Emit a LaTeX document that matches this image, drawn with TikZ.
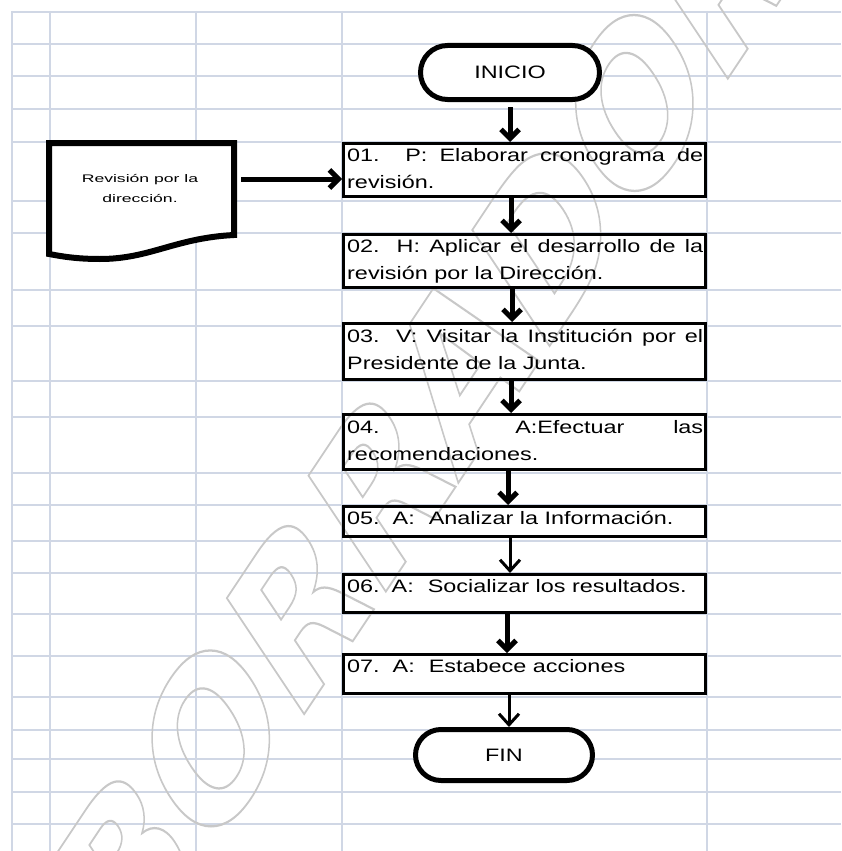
\documentclass[tikz,border=0pt]{standalone}
\usepackage{fontspec}
\setmainfont{Liberation Sans}
\newfontfamily\boxfont[FakeStretch=1.3]{Liberation Sans}
\newfontfamily\docfont[FakeStretch=1.6]{Liberation Sans}
\newfontfamily\wmfont{DejaVu Sans}
\usetikzlibrary{arrows.meta,shapes.misc}
\definecolor{gridc}{HTML}{D0D7E5}
\definecolor{wmc}{RGB}{200,200,200}
\pgfdeclarelayer{gridl}
\pgfdeclarelayer{fillsl}
\pgfdeclarelayer{wml}
\pgfsetlayers{gridl,fillsl,wml,main}
\newcommand{\twoline}[2]{\parbox[t]{356pt}{\boxfont\fontsize{18}{27.5}\selectfont\noindent\makebox[356pt][s]{#1}\\#2}}
\newcommand{\outlinetext}[1]{{\color{wmc}\special{pdf:literal q 1 Tr 1.5 w}#1\special{pdf:literal Q}}}
\tikzset{
  box/.style={draw, line width=3pt, rectangle, minimum width=362pt, inner sep=0pt},
  term/.style={draw, line width=5pt, rounded rectangle, fill=white, inner sep=0pt,
    font=\boxfont\fontsize{18}{22}\selectfont},
  txt/.style={anchor=base west, inner sep=0pt, font=\boxfont\fontsize{18}{27}\selectfont},
  arrthick/.style={line width=5pt, -{Straight Barb[length=9pt,width=18pt]}},
  arrthin/.style={line width=3pt, -{Straight Barb[length=11pt,width=20pt]}},
  gridline/.style={draw=gridc, line width=2pt}
}
\begin{document}
\begin{tikzpicture}[x=1pt,y=-1pt]
\useasboundingbox (0,0) rectangle (841,851);
% grid
\begin{pgfonlayer}{gridl}
\fill[white] (0,0) rectangle (841,851);
\foreach \x in {12,50,196,342,707} \draw[gridline] (\x,11) -- (\x,851);
\foreach \y in {12,44,76,109,142,201,233,290,326,381,417,473,505,541,573,614,656,697,730,759,792,824}
  \draw[gridline] (11,\y) -- (841,\y);
\end{pgfonlayer}
% terminals
\node[term, minimum width=179pt, minimum height=54pt] (ini) at (510,72.5) {INICIO};
\node[term, minimum width=177pt, minimum height=51pt] (fin) at (504,755) {FIN};
% process boxes
\node[box, minimum height=53pt] (b1) at (524.5,170) {};
\node[box, minimum height=53pt] (b2) at (524.5,261) {};
\node[box, minimum height=56pt] (b3) at (524.5,351.5) {};
\node[box, minimum height=55pt] (b4) at (524.5,442) {};
\node[box, minimum height=30pt] (b5) at (524.5,521.5) {};
\node[box, minimum height=38pt] (b6) at (524.5,593.5) {};
\node[box, minimum height=39pt] (b7) at (524.5,674) {};
\node[txt] (t1) at (347,161) {\twoline{01. P: Elaborar cronograma de}{revisión.}};
\node[txt] (t2) at (347,252) {\twoline{02. H: Aplicar el desarrollo de la}{revisión por la Dirección.}};
\node[txt] (t3) at (347,342) {\twoline{03. V: Visitar la Institución por el}{Presidente de la Junta.}};
\node[txt] (t4) at (347,433) {\twoline{04. A:Efectuar las}{recomendaciones.}};
\node[txt] (t5) at (347,524) {05.\hspace{13pt}A:\hspace{14pt}Analizar la Información.};
\node[txt] (t6) at (347,592) {06.\hspace{12pt}A:\hspace{14pt}Socializar los resultados.};
\node[txt] (t7) at (347,672) {07.\hspace{13pt}A:\hspace{14pt}Estabece acciones};
\begin{pgfonlayer}{fillsl}
\foreach \n in {b1,b2,b3,b4,b5,b6,b7}
  \fill[white] (\n.north west) rectangle (\n.south east);
\end{pgfonlayer}
% document shape
\filldraw[fill=white, draw=black, line width=6pt, line join=miter]
  (49,143) -- (234,143) -- (234,235) .. controls (175,238) and (150,259) .. (100,259)
  .. controls (75,259) and (60,256) .. (49,254) -- cycle;
\node[inner sep=0pt, align=center, font=\docfont\fontsize{11}{20}\selectfont] (doc) at (140,189) {Revisión por la\\dirección.};
\coordinate (docout) at (241,179);
% watermark
\begin{pgfonlayer}{wml}
\node[yscale=1.5, rotate=45, inner sep=0pt] (wm) at (423,420)
  {\outlinetext{\wmfont\bfseries\fontsize{150}{150}\selectfont BORRADOR}};
\end{pgfonlayer}
% connectors
\draw[arrthick] (docout) -- (docout -| b1.west);
\draw[arrthick, shorten <=5pt] (ini.south) -- (ini.south |- b1.north);
\draw[arrthick] ([xshift=1pt]b1.south -| ini.south) -- ([xshift=1pt]b2.north -| ini.south);
\draw[arrthick] ([xshift=2pt]b2.south -| ini.south) -- ([xshift=2pt]b3.north -| ini.south);
\draw[arrthick] ([xshift=1pt]b3.south -| ini.south) -- ([xshift=1pt]b4.north -| ini.south);
\draw[arrthick] ([xshift=-2pt]b4.south -| ini.south) -- ([xshift=-2pt]b5.north -| ini.south);
\draw[arrthin] (b5.south -| ini.south) -- (b6.north -| ini.south);
\draw[arrthick] ([xshift=-3pt]b6.south -| ini.south) -- ([xshift=-3pt]b7.north -| ini.south);
\draw[arrthin] ([xshift=-1pt]b7.south -| ini.south) -- ([xshift=-1pt]fin.north -| ini.south);
\end{tikzpicture}
\end{document}
